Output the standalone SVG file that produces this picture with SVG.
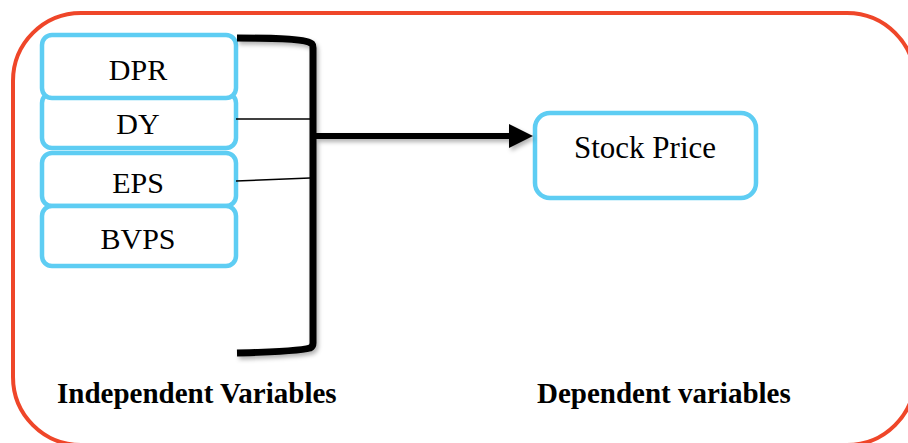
<svg xmlns="http://www.w3.org/2000/svg" width="908" height="443" viewBox="0 0 908 443">
<style>
.box{fill:#fff;stroke:#5ECDF3;stroke-width:4.5}
.lbl{font-family:"Liberation Serif","Times New Roman",serif;font-size:30px;fill:#000;text-anchor:middle}
.cap{font-family:"Liberation Serif","Times New Roman",serif;font-size:29px;font-weight:bold;fill:#000}
.thin{stroke:#000;stroke-width:1.5;fill:none}
</style>
<defs>
<filter id="sh" x="-20%" y="-20%" width="140%" height="140%">
<feDropShadow dx="2" dy="3" stdDeviation="2" flood-color="#000" flood-opacity="0.3"/>
</filter>
</defs>
<rect id="frame" x="13" y="13" width="902" height="432" rx="68" fill="#fff" stroke="#EF4629" stroke-width="4"/>
<g id="DY"><rect class="box" x="42" y="93" width="194" height="55" rx="10"/><text class="lbl" x="138" y="134">DY</text></g>
<g id="DPR"><rect class="box" x="42" y="35" width="194" height="63" rx="10"/><text class="lbl" x="138" y="80">DPR</text></g>
<g id="EPS"><rect class="box" x="42" y="153" width="194" height="53" rx="10"/><text class="lbl" x="138" y="193">EPS</text></g>
<g id="BVPS"><rect class="box" x="42" y="206" width="194" height="60" rx="10"/><text class="lbl" x="138" y="249">BVPS</text></g>
<g id="StockPrice"><rect class="box" x="535" y="113" width="221" height="85" rx="15"/><text class="lbl" x="645" y="158" style="font-size:31px">Stock Price</text></g>
<g id="connectors">
<line class="thin" x1="236" y1="119" x2="310" y2="119"/>
<line class="thin" x1="236" y1="181" x2="310" y2="178"/>
<g filter="url(#sh)">
<path d="M237,38 C280,38 308,39 312,44 C313,45 313,46 313,48 L313,343 C313,346 312,347 310,348 C300,351 275,352 237,353" fill="none" stroke="#000" stroke-width="7"/>
<line x1="313" y1="136" x2="512" y2="136" stroke="#000" stroke-width="6"/>
<polygon points="509,124 533,136 509,148" fill="#000"/>
</g>
</g>
<text class="cap" x="57" y="403">Independent Variables</text>
<text class="cap" x="537" y="403">Dependent variables</text>
</svg>
